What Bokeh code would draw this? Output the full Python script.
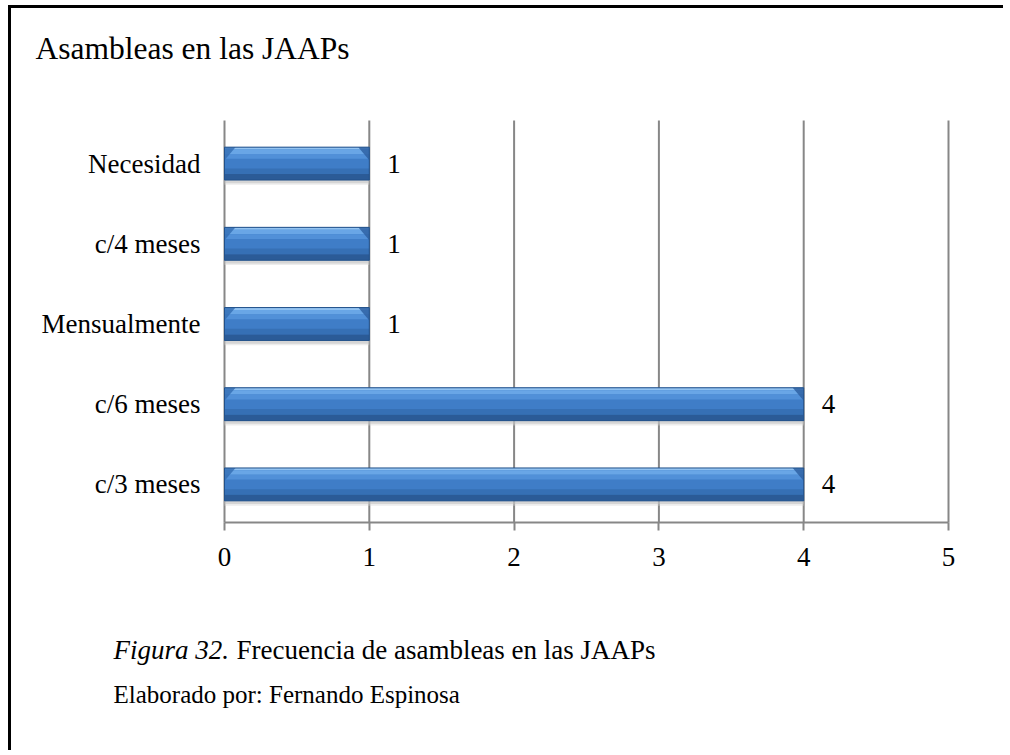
from bokeh.plotting import figure
from bokeh.models import Range1d, FixedTicker, Label
from bokeh.core.properties import value
from bokeh.embed import file_html
from bokeh.resources import INLINE

# ---- data ----
categories = ["c/3 meses", "c/6 meses", "Mensualmente", "c/4 meses", "Necesidad"]
counts = [4, 4, 1, 1, 1]
x_ticks = [0, 1, 2, 3, 4, 5]
title_text = "Asambleas en las JAAPs"
fig_label = "Figura 32."
fig_caption = "Frecuencia de asambleas en las JAAPs"
author = "Elaborado por: Fernando Espinosa"

FONT = "Liberation Serif"
GRID = "#878787"

# ---- layout (page pixels -> data) ----
W, H = 995, 745
CX0, CY0 = 11, 8                  # page offset of the canvas (margin + border)
X0_PAGE, X5_PAGE = 224, 948       # page x of first / last tick
BAND_TOP, BAND_BOT = 123, 524     # page y of category bands
n = len(categories)
xs = (X5_PAGE - X0_PAGE) / (x_ticks[-1] - x_ticks[0])
ys = (BAND_BOT - BAND_TOP) / n
x_start = x_ticks[0] - (X0_PAGE - CX0) / xs
x_end = x_start + W / xs
y_end = n + 0.5 + (BAND_TOP - CY0) / ys
y_start = y_end - H / ys

def px_x(page_x):
    return x_start + (page_x - CX0) / xs

def px_y(page_y):
    return y_end - (page_y - CY0) / ys

axis_y = px_y(522)
grid_top = px_y(120)

p = figure(width=W, height=H, output_backend="svg", toolbar_location=None,
           x_range=Range1d(x_start, x_end), y_range=Range1d(y_start, y_end),
           min_border=0, outline_line_color=None,
           background_fill_color="white", border_fill_color="white")
p.styles = {"margin-left": "8px", "margin-top": "5px",
            "border-left": "3px solid black", "border-top": "3px solid black"}

pos = list(range(1, n + 1))

# vertical grid lines
p.segment(x0=x_ticks, y0=[axis_y] * len(x_ticks), x1=x_ticks, y1=[grid_top] * len(x_ticks),
          line_color=GRID, line_width=2)

# bars: soft shadow, gradient strips, bevel facets, outline
BH = 0.41
p.hbar(y=[v - 0.235 for v in pos], left=0, right=counts, height=0.06,
       fill_color="#d6d6d6", fill_alpha=0.45, line_color=None)
p.hbar(y=[v - 0.225 for v in pos], left=0, right=counts, height=0.04,
       fill_color="#bdbdbd", fill_alpha=0.5, line_color=None)
strips = [(0.0, BH, "#3f7dc7"),
          (0.19, 0.03, "#93c3f1"),
          (0.1475, 0.055, "#69a6e6"),
          (0.09, 0.06, "#5190d8"),
          (-0.095, 0.07, "#3670b5"),
          (-0.1675, 0.075, "#2b5b97")]
for dy, h, col in strips:
    p.hbar(y=[v + dy for v in pos], left=0, right=counts, height=h,
           fill_color=col, line_color=None)
# corner bevels
dx, dyf = 11 / xs, 13 / ys
tops = [v + BH / 2 for v in pos]
p.patches(xs=[[c - dx, c, c] for c in counts], ys=[[t, t, t - dyf] for t in tops],
          fill_color="#2f62a3", fill_alpha=0.85, line_color=None)
p.patches(xs=[[0, dx, 0] for c in counts], ys=[[t, t, t - dyf] for t in tops],
          fill_color="#3670b5", fill_alpha=0.85, line_color=None)
p.hbar(y=pos, left=0, right=counts, height=BH, fill_color=None,
       line_color="#22518a", line_width=1)

# value labels
p.text(x=counts, y=pos, text=[str(v) for v in counts], x_offset=18,
       text_baseline="middle", text_align="left",
       text_font=value(FONT), text_font_size="27px", text_color="black")

# axes placed inside the frame
p.xaxis.fixed_location = axis_y
p.xaxis.bounds = (x_ticks[0], x_ticks[-1])
p.xaxis.ticker = FixedTicker(ticks=x_ticks)
p.xaxis.axis_line_color = GRID
p.xaxis.axis_line_width = 2
p.xaxis.major_tick_line_color = GRID
p.xaxis.major_tick_line_width = 2
p.xaxis.major_tick_out = 8
p.xaxis.major_tick_in = 0
p.xaxis.minor_tick_line_color = None
p.xaxis.major_label_standoff = 17
p.xaxis.major_label_text_font = FONT
p.xaxis.major_label_text_font_size = "27px"
p.xaxis.major_label_text_color = "black"

p.yaxis.fixed_location = x_ticks[0]
p.yaxis.bounds = (0.5, n + 0.5)
p.yaxis.ticker = FixedTicker(ticks=pos)
p.yaxis.major_label_overrides = {i: c for i, c in zip(pos, categories)}
p.yaxis.axis_line_color = None
p.yaxis.major_tick_line_color = None
p.yaxis.minor_tick_line_color = None
p.yaxis.major_label_standoff = 18
p.yaxis.major_label_text_font = FONT
p.yaxis.major_label_text_font_size = "27px"
p.yaxis.major_label_text_color = "black"

p.grid.visible = False

# texts
p.add_layout(Label(x=px_x(35), y=px_y(48), text=title_text,
                   text_font=FONT, text_font_size="31.5px", text_baseline="alphabetic",
                   text_color="black"))
p.add_layout(Label(x=px_x(113), y=px_y(649), text=fig_label,
                   text_font=FONT, text_font_size="27px", text_font_style="italic",
                   text_baseline="alphabetic", text_color="black"))
p.add_layout(Label(x=px_x(236), y=px_y(649), text=fig_caption,
                   text_font=FONT, text_font_size="27px", text_baseline="alphabetic",
                   text_color="black"))
p.add_layout(Label(x=px_x(113), y=px_y(694), text=author,
                   text_font=FONT, text_font_size="25px", text_baseline="alphabetic",
                   text_color="black"))

open("out.html", "w").write(file_html(p, INLINE))
